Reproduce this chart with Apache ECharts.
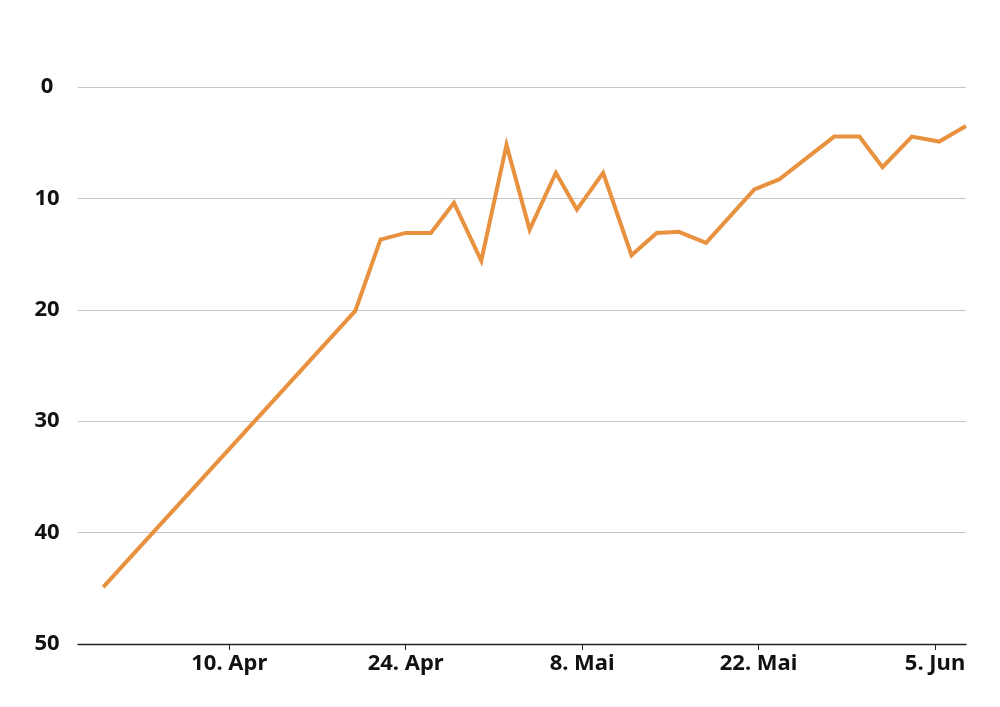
<!DOCTYPE html>
<html>
<head>
<meta charset="utf-8">
<script src="https://cdn.jsdelivr.net/npm/echarts@6/dist/echarts.min.js"></script>
<style>
html,body{margin:0;padding:0;background:#fff;}
#chart{width:1000px;height:707px;}
</style>
</head>
<body>
<div id="chart"></div>
<script>
// Data
const dates = [
  '2020-03-31', '2020-04-20', '2020-04-22', '2020-04-24', '2020-04-26',
  '2020-04-27 20:00', '2020-04-30', '2020-05-02', '2020-05-03 20:00', '2020-05-05 22:00',
  '2020-05-07 14:00', '2020-05-09 16:00', '2020-05-11 22:00', '2020-05-13 22:00', '2020-05-15 16:00',
  '2020-05-17 20:00', '2020-05-21 16:00', '2020-05-23 15:00', '2020-05-28', '2020-05-30',
  '2020-05-31 20:00', '2020-06-03 04:00', '2020-06-05 08:00', '2020-06-07 11:00'
];
const values = [
  44.9, 20.1, 13.7, 13.1, 13.1,
  10.4, 15.6, 5.2, 12.8, 7.7,
  11.0, 7.7, 15.1, 13.1, 13.0,
  14.0, 9.2, 8.3, 4.45, 4.45,
  7.2, 4.45, 4.9, 3.5
];
const tickDates = ['2020-04-10', '2020-04-24', '2020-05-08', '2020-05-22', '2020-06-05'];
const monthNames = ['Jan','Feb','Mär','Apr','Mai','Jun','Jul','Aug','Sep','Okt','Nov','Dez'];
const xMin = '2020-03-29';

function toTime(s) {
  const m = s.match(/^(\d+)-(\d+)-(\d+)(?:[ T](\d+):(\d+))?$/);
  return new Date(+m[1], +m[2] - 1, +m[3], m[4] ? +m[4] : 0, m[5] ? +m[5] : 0).getTime();
}
const seriesData = dates.map((d, i) => [toTime(d), values[i]]);
const tickTimes = tickDates.map(toTime);

const font = '"Noto Sans", Lato, sans-serif';
const chart = echarts.init(document.getElementById('chart'), null, {renderer: 'canvas'});
chart.setOption({
  animation: false,
  backgroundColor: '#ffffff',
  grid: {left: 78, right: 34, top: 87, bottom: 63, containLabel: false},
  xAxis: {
    type: 'value',
    scale: true,
    position: 'bottom',
    min: toTime(xMin),
    max: toTime(dates[dates.length - 1]),
    axisLine: {show: true, onZero: false, lineStyle: {color: '#222', width: 1.3}},
    axisTick: {show: true, customValues: tickTimes, length: 6, lineStyle: {color: '#222', width: 1}},
    axisLabel: {
      customValues: tickTimes,
      margin: 9,
      fontFamily: font,
      fontWeight: 'bold',
      fontSize: 22,
      color: '#111',
      showMinLabel: true,
      showMaxLabel: true,
      formatter: function (v) {
        const d = new Date(v);
        return d.getDate() + '. ' + monthNames[d.getMonth()];
      }
    },
    splitLine: {show: false}
  },
  yAxis: {
    type: 'value',
    inverse: true,
    min: 0,
    max: 50,
    interval: 10,
    axisLine: {show: false},
    axisTick: {show: false},
    axisLabel: {
      margin: 31,
      align: 'center',
      fontFamily: font,
      fontWeight: 'bold',
      fontSize: 22,
      color: '#111'
    },
    splitLine: {show: true, lineStyle: {color: '#c6c6c6', width: 1}}
  },
  series: [{
    type: 'line',
    data: seriesData,
    showSymbol: false,
    symbol: 'none',
    lineStyle: {color: '#E8913F', width: 4, join: 'miter'},
    z: 3
  }]
});
</script>
</body>
</html>
